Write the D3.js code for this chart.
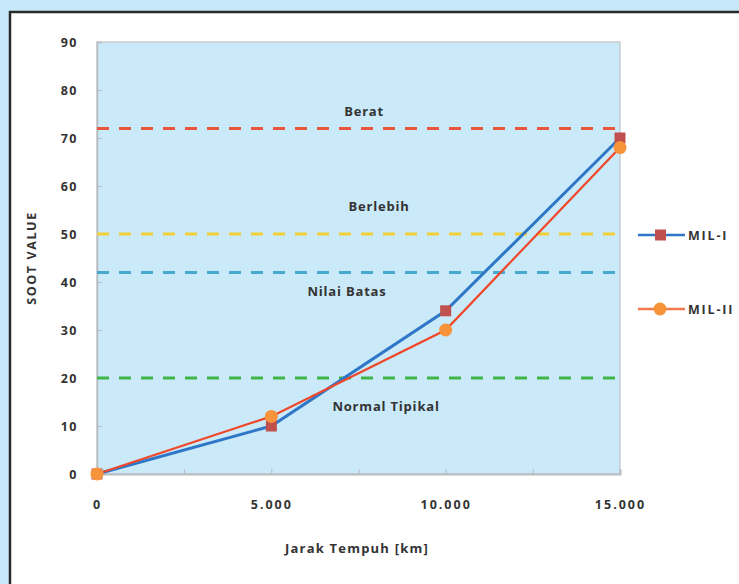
<!DOCTYPE html>
<html>
<head>
<meta charset="utf-8">
<script src="https://cdn.jsdelivr.net/npm/d3@7"></script>
<style>
  html, body { margin: 0; padding: 0; background: #c6e8f8; }
  svg { display: block; }
  text { font-family: "Open Sans", "Liberation Sans", sans-serif; font-weight: bold; fill: #333; }
</style>
</head>
<body>
<svg id="chart" width="739" height="584"></svg>
<script>
// Distance travelled (km) and measured soot values
const distances = [0, 5000, 10000, 15000];
const milI = [0, 10, 34, 70];
const milII = [0, 12, 30, 68];
const seriesNames = ["MIL-I", "MIL-II"];

// Reference limit bands
const limitValues = [72, 50, 42, 20];
const limitColors = ["#e9573a", "#f3cf36", "#45aacd", "#3cb549"];
const zoneLabels = ["Berat", "Berlebih", "Nilai Batas", "Normal Tipikal"];
const zoneLabelValues = [74.5, 54.7, 37, 13.2];
const zoneLabelX = [7660, 8090, 7170, 8290];

const yTicks = [0, 10, 20, 30, 40, 50, 60, 70, 80, 90];
const xTicks = [0, 2500, 5000, 7500, 10000, 12500, 15000];
const xLabelTicks = [0, 5000, 10000, 15000];

const svg = d3.select("#chart");

// white chart panel with dark frame
svg.append("rect").attr("x", 10).attr("y", 12).attr("width", 760).attr("height", 600)
  .attr("fill", "#fff").attr("stroke", "#2a2a2a").attr("stroke-width", 2.5);

const plot = { left: 97, right: 620, top: 42, bottom: 474 };
const x = d3.scaleLinear().domain([0, 15000]).range([plot.left, plot.right]);
const y = d3.scaleLinear().domain([0, 90]).range([plot.bottom, plot.top]);

svg.append("rect").attr("x", plot.left).attr("y", plot.top)
  .attr("width", plot.right - plot.left).attr("height", plot.bottom - plot.top)
  .attr("fill", "#cae9f9").attr("stroke", "#c9cdd0").attr("stroke-width", 1.5);

// axes: ticks pointing into the plot
const fmt = d => d3.format(",")(d).replace(/,/g, ".");
const yAxis = d3.axisLeft(y).tickValues(yTicks).tickSize(-5).tickPadding(19).tickFormat(d3.format("d"));
const gy = svg.append("g").attr("transform", `translate(${plot.left},0)`).call(yAxis);
gy.select(".domain").attr("stroke", "#b8bcbf").attr("stroke-width", 1.5);
gy.selectAll(".tick line").attr("stroke", "#b8bcbf");
gy.selectAll(".tick text").attr("font-size", 12.5).attr("letter-spacing", 1.5).attr("fill", "#333");

const xAxis = d3.axisBottom(x).tickValues(xTicks).tickSize(-5).tickPadding(26)
  .tickFormat(d => xLabelTicks.includes(d) ? fmt(d) : "");
const gx = svg.append("g").attr("transform", `translate(0,${plot.bottom})`).call(xAxis);
gx.select(".domain").attr("stroke", "#b8bcbf").attr("stroke-width", 2);
gx.selectAll(".tick line").attr("stroke", "#b8bcbf");
gx.selectAll(".tick text").attr("font-size", 12.5).attr("letter-spacing", 2).attr("fill", "#333");

// limit lines
svg.append("g").selectAll("line").data(limitValues).join("line")
  .attr("x1", plot.left).attr("x2", plot.right)
  .attr("y1", d => y(d)).attr("y2", d => y(d))
  .attr("stroke", (d, i) => limitColors[i]).attr("stroke-width", 3)
  .attr("stroke-dasharray", "12,10");

// zone labels
svg.append("g").selectAll("text").data(zoneLabels).join("text")
  .attr("x", (d, i) => x(zoneLabelX[i])).attr("y", (d, i) => y(zoneLabelValues[i]))
  .attr("text-anchor", "middle").attr("font-size", 13).attr("letter-spacing", 0.8).attr("fill", "#333")
  .text(d => d);

// series
const line = d3.line().x((d, i) => x(distances[i])).y(d => y(d));
svg.append("path").datum(milI).attr("d", line).attr("fill", "none")
  .attr("stroke", "#2f77c6").attr("stroke-width", 3);
svg.append("path").datum(milII).attr("d", line).attr("fill", "none")
  .attr("stroke", "#f0472b").attr("stroke-width", 2.2);

svg.append("g").selectAll("rect").data(milI).join("rect")
  .attr("x", (d, i) => x(distances[i]) - 5.5).attr("y", d => y(d) - 5.5)
  .attr("width", 11).attr("height", 11).attr("fill", "#c0504d");
svg.append("g").selectAll("circle").data(milII).join("circle")
  .attr("cx", (d, i) => x(distances[i])).attr("cy", d => y(d))
  .attr("r", 6.5).attr("fill", "#f7933a");

// legend
const legendY = [235, 309];
const lg = svg.append("g");
lg.append("line").attr("x1", 638).attr("x2", 685).attr("y1", legendY[0]).attr("y2", legendY[0])
  .attr("stroke", "#2f77c6").attr("stroke-width", 2.5);
lg.append("rect").attr("x", 655).attr("y", legendY[0] - 5.5).attr("width", 11).attr("height", 11).attr("fill", "#c0504d");
lg.append("line").attr("x1", 638).attr("x2", 685).attr("y1", legendY[1]).attr("y2", legendY[1])
  .attr("stroke", "#f47b4f").attr("stroke-width", 2.5);
lg.append("circle").attr("cx", 660).attr("cy", legendY[1]).attr("r", 6.5).attr("fill", "#f7933a");
lg.selectAll("text").data(seriesNames).join("text")
  .attr("x", 688).attr("y", (d, i) => legendY[i] + 4.5)
  .attr("font-size", 12.5).attr("letter-spacing", 1.8).attr("fill", "#333").text(d => d);

// axis titles
svg.append("text").attr("transform", "translate(36,258) rotate(-90)")
  .attr("text-anchor", "middle").attr("font-size", 12.5).attr("letter-spacing", 1.6).text("SOOT VALUE");
svg.append("text").attr("x", 357).attr("y", 553).attr("text-anchor", "middle")
  .attr("font-size", 13).attr("letter-spacing", 1.2).text("Jarak Tempuh [km]");
</script>
</body>
</html>
